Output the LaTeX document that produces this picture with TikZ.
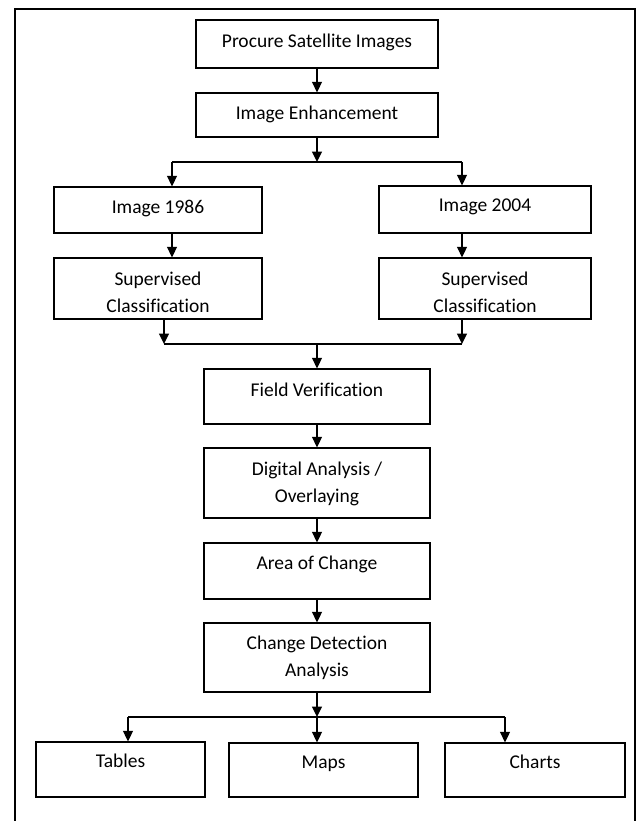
\documentclass[tikz,border=0pt]{standalone}
\usepackage{fontspec}
\setmainfont[Ligatures=NoCommon]{Carlito}
\usetikzlibrary{arrows.meta}
\newcommand\twolines[2]{\begin{tabular}[t]{@{}c@{}}#1\\#2\end{tabular}}
\begin{document}
\begin{tikzpicture}[x=1bp,y=-1bp,
  box/.style={draw, line width=1.3bp, rectangle, inner sep=0pt},
  txt/.style={inner sep=0pt, anchor=base, font=\fontsize{19.5bp}{27bp}\selectfont},
  conn/.style={line width=1.3bp},
  arr/.style={line width=1.3bp, -{Triangle[length=10.5bp,width=10bp]}},
  frame/.style={draw, line width=2bp}]
\useasboundingbox (0,0) rectangle (638,821);
\clip (0,0) rectangle (638,821);
\fill[white] (0,0) rectangle (638,821);
\draw[frame] (14.5,9.5) rectangle (634.5,840);

% boxes
\node[box, minimum width=242bp, minimum height=48bp] (proc) at (317,44) {};
\node[box, minimum width=242bp, minimum height=44bp] (enh) at (317,115) {};
\node[box, minimum width=208bp, minimum height=46bp] (i86) at (158,210) {};
\node[box, minimum width=212bp, minimum height=47bp] (i04) at (485,209.5) {};
\node[box, minimum width=208bp, minimum height=61bp] (s86) at (158,288.5) {};
\node[box, minimum width=212bp, minimum height=61bp] (s04) at (485,288.5) {};
\node[box, minimum width=226bp, minimum height=55bp] (fv) at (317,396.5) {};
\node[box, minimum width=226bp, minimum height=70bp] (da) at (317,483) {};
\node[box, minimum width=226bp, minimum height=56bp] (ac) at (317,571) {};
\node[box, minimum width=226bp, minimum height=69bp] (cd) at (317,657.5) {};
\node[box, minimum width=169bp, minimum height=55bp] (tab) at (120.5,769.5) {};
\node[box, minimum width=189bp, minimum height=54bp] (map) at (323.5,770) {};
\node[box, minimum width=180bp, minimum height=54bp] (cha) at (535,770) {};

% texts
\node[txt] (proc-t) at ([yshift=-28bp]proc.north) {Procure Satellite Images};
\node[txt] (enh-t) at ([yshift=-27bp]enh.north) {Image Enhancement};
\node[txt] (i86-t) at ([yshift=-27bp]i86.north) {Image 1986};
\node[txt] (i04-t) at ([yshift=-26.5bp]i04.north) {Image 2004};
\node[txt] (s86-t) at ([yshift=-28bp]s86.north) {\twolines{Supervised}{Classification}};
\node[txt] (s04-t) at ([yshift=-28bp]s04.north) {\twolines{Supervised}{Classification}};
\node[txt] (fv-t) at ([yshift=-28bp]fv.north) {Field Verification};
\node[txt] (da-t) at ([yshift=-28bp]da.north) {\twolines{Digital Analysis /}{Overlaying}};
\node[txt] (ac-t) at ([yshift=-27bp]ac.north) {Area of Change};
\node[txt] (cd-t) at ([yshift=-27bp]cd.north) {\twolines{Change Detection}{Analysis}};
\node[txt] (tab-t) at ([yshift=-26.5bp]tab.north) {Tables};
\node[txt] (map-t) at ([yshift=-26.5bp]map.north) {Maps};
\node[txt] (cha-t) at ([yshift=-26.5bp]cha.north) {Charts};

% connector points
\coordinate (s1) at (317,162);
\coordinate (s1l) at (172,162);
\coordinate (s1r) at (462,162);
\coordinate (m1) at (317,344);
\coordinate (m1l) at (164,344);
\coordinate (m1r) at (462,344);
\coordinate (b1) at (317,717);
\coordinate (b1l) at (128,717);
\coordinate (b1r) at (505,717);

% connectors
\draw[arr] (proc.south) -- (enh.north);
\draw[arr] (enh.south) -- (s1);
\draw[conn] (s1l) -- (s1r);
\draw[arr] (s1l) -- (s1l |- i86.north);
\draw[arr] (s1r) -- (s1r |- i04.north);
\draw[arr] (s1l |- i86.south) -- (s1l |- s86.north);
\draw[arr] (s1r |- i04.south) -- (s1r |- s04.north);
\draw[arr] (m1l |- s86.south) -- (m1l);
\draw[arr] (m1r |- s04.south) -- (m1r);
\draw[conn] (m1l) -- (m1r);
\draw[arr] (m1) -- (fv.north);
\draw[arr] (fv.south) -- (da.north);
\draw[arr] (da.south) -- (ac.north);
\draw[arr] (ac.south) -- (cd.north);
\draw[arr] (cd.south) -- (b1);
\draw[conn] (b1l) -- (b1r);
\draw[arr] (b1l) -- (b1l |- tab.north);
\draw[arr] (b1) -- (b1 |- map.north);
\draw[arr] (b1r) -- (b1r |- cha.north);
\end{tikzpicture}
\end{document}
